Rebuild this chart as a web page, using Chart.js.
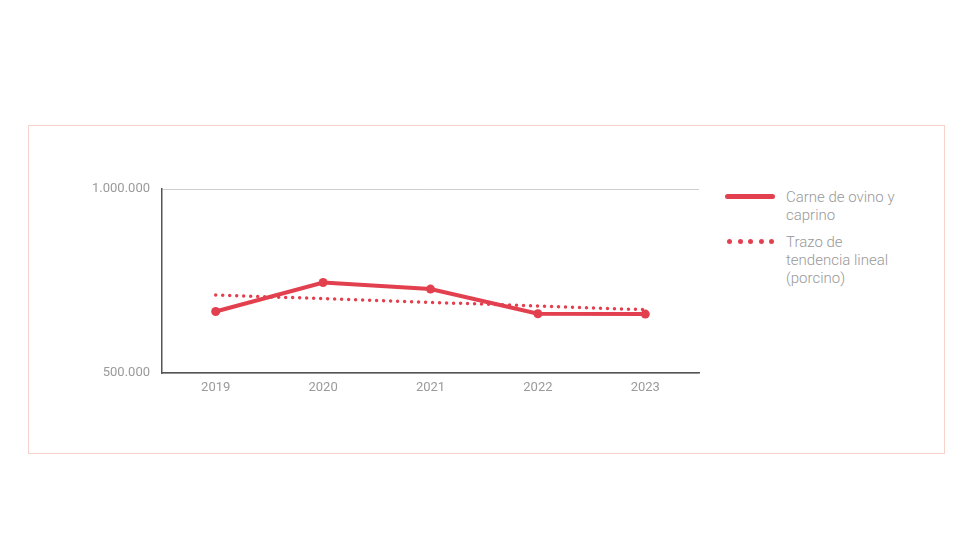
<!DOCTYPE html>
<html>
<head>
<meta charset="utf-8">
<script src="https://cdn.jsdelivr.net/npm/chart.js@4"></script>
<style>
  body { margin: 0; background: #fff; width: 980px; height: 560px; position: relative; font-family: Roboto, sans-serif; }
  #box { position: absolute; left: 28px; top: 125px; width: 915px; height: 327px; border: 1px solid #f5d3cb; }
  #wrap { position: absolute; left: 60px; top: 150px; width: 650px; height: 250px; }
  #legend { position: absolute; left: 724px; top: 188px; color: #999; font-size: 15px; line-height: 18px; font-weight: 300; }
  .item { display: flex; align-items: flex-start; margin-bottom: 9px; }
  .sample { width: 52px; height: 18px; margin-right: 10px; position: relative; flex: none; }
  .solid { position: absolute; left: 1px; top: 6px; width: 50px; height: 5px; border-radius: 3px; }
  .dot { position: absolute; top: 6px; width: 5px; height: 5px; border-radius: 50%; }
</style>
</head>
<body>
<div id="box"></div>
<div id="wrap"><canvas id="myChart"></canvas></div>
<div id="legend"></div>
<script>
const years = ["2019", "2020", "2021", "2022", "2023"];
const carne = [667000, 746000, 728000, 661000, 660000];
const tendencia = [712000, 702000, 692000, 682000, 672000];
const yTicks = [500000, 1000000];
const legendLines = [["Carne de ovino y", "caprino"], ["Trazo de", "tendencia lineal", "(porcino)"]];
const red = "#e3404f";

function fmt(v) {
  return String(v).replace(/\B(?=(\d{3})+(?!\d))/g, ".");
}

const ctx = document.getElementById("myChart").getContext("2d");
const myChart = new Chart(ctx, {
  type: "line",
  data: {
    labels: years,
    datasets: [
      {
        label: legendLines[0].join(" "),
        data: carne,
        borderColor: red,
        backgroundColor: red,
        borderWidth: 4,
        pointRadius: 4.5,
        pointBorderWidth: 0,
        pointHoverRadius: 4.5,
        tension: 0,
      },
      {
        label: legendLines[1].join(" "),
        data: tendencia,
        borderColor: red,
        borderWidth: 3.5,
        borderDash: [0, 7],
        borderCapStyle: "round",
        pointRadius: 0,
        tension: 0,
      },
    ],
  },
  options: {
    responsive: true,
    maintainAspectRatio: false,
    animation: false,
    layout: { padding: { top: 39, right: 11 } },
    plugins: {
      legend: { display: false },
      tooltip: { enabled: false },
    },
    scales: {
      x: {
        offset: true,
        grid: { display: false, drawTicks: false },
        border: { color: "#555", width: 1.5 },
        ticks: { color: "#9a9a9a", font: { family: "Roboto", size: 13 }, padding: 7 },
        afterFit: (s) => { s.height = 27; },
      },
      y: {
        min: yTicks[0],
        max: yTicks[1],
        afterBuildTicks: (s) => { s.ticks = yTicks.map((v) => ({ value: v })); },
        grid: { color: "#cfcfcf", drawTicks: false },
        border: { color: "#555", width: 1.5 },
        ticks: {
          color: "#9a9a9a",
          font: { family: "Roboto", size: 13 },
          padding: 12,
          callback: (v) => fmt(v),
        },
        afterFit: (s) => { s.width = 102; },
      },
    },
  },
});

const legend = document.getElementById("legend");
myChart.data.datasets.forEach((ds, i) => {
  const item = document.createElement("div");
  item.className = "item";
  const sample = document.createElement("div");
  sample.className = "sample";
  if (ds.borderDash) {
    for (let k = 0; k < 5; k++) {
      const d = document.createElement("span");
      d.className = "dot";
      d.style.left = (3 + k * 10.5) + "px";
      d.style.background = ds.borderColor;
      sample.appendChild(d);
    }
  } else {
    const l = document.createElement("span");
    l.className = "solid";
    l.style.background = ds.borderColor;
    sample.appendChild(l);
  }
  const text = document.createElement("div");
  text.innerHTML = legendLines[i].join("<br>");
  item.appendChild(sample);
  item.appendChild(text);
  legend.appendChild(item);
});
</script>
</body>
</html>
